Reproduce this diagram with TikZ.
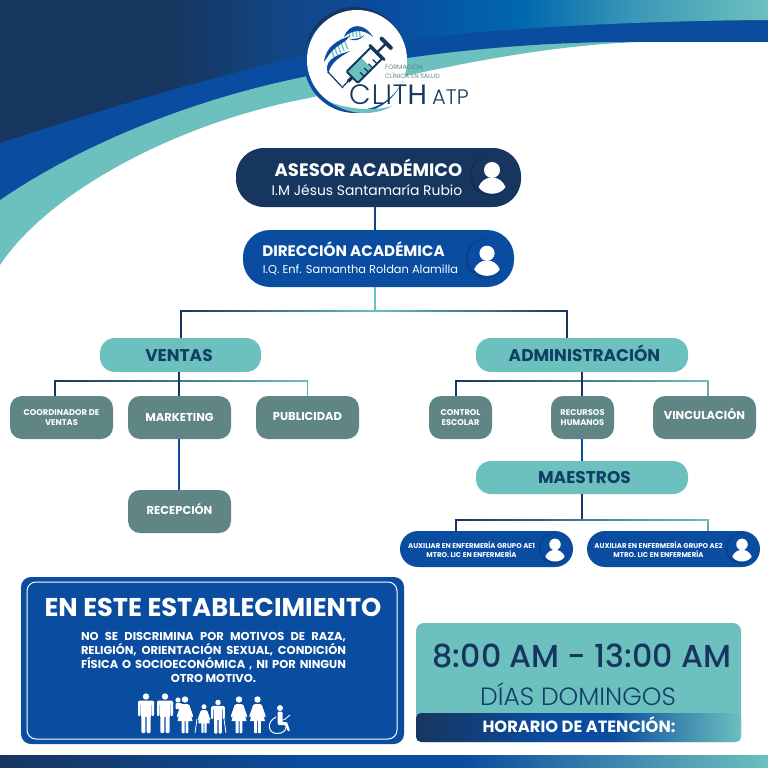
\documentclass[tikz,border=0pt]{standalone}
\usepackage{fontspec}
\setmainfont{Poppins}
\newfontfamily\lightfont{Poppins Light}
\newfontfamily\mediumfont{Poppins Medium}
\usetikzlibrary{calc}
\definecolor{navyDark}{HTML}{17365F}
\definecolor{navyMid}{HTML}{124683}
\definecolor{bandBlue}{HTML}{0A4C9F}
\definecolor{skyBlue}{HTML}{0068AD}
\definecolor{fadeBlue}{HTML}{3F9CB8}
\definecolor{tealSoft}{HTML}{6CC0BD}
\definecolor{greyTeal}{HTML}{608585}
\definecolor{inkBlue}{HTML}{123F66}
\pgfdeclarehorizontalshading{bannerfade}{100bp}{color(0bp)=(navyDark);color(25bp)=(navyDark);
  color(36bp)=(navyDark);color(43bp)=(navyMid);color(50bp)=(bandBlue);color(59bp)=(skyBlue);color(67bp)=(fadeBlue);color(75bp)=(tealSoft);color(100bp)=(tealSoft)}
\pgfdeclarehorizontalshading{stripfade}{100bp}{color(0bp)=(navyDark);color(25bp)=(navyDark);
  color(45bp)=(bandBlue);color(55bp)=(bandBlue);color(75bp)=(tealSoft);color(100bp)=(tealSoft)}
\tikzset{
  tealbox/.style={fill=tealSoft,rounded corners=15pt,text=inkBlue,align=center,inner sep=0pt,text height=12pt,text depth=0pt,font=\fontsize{17}{18}\selectfont\bfseries},
  greybox/.style={fill=greyTeal,rounded corners=12pt,text=white,align=center,inner sep=0pt,font=\fontsize{8.3}{10}\selectfont\bfseries,minimum height=43},
  greyone/.style={greybox,minimum width=103,font=\fontsize{11.5}{13}\selectfont\bfseries,text height=8pt,text depth=#1},
  auxbox/.style={fill=bandBlue,rounded corners=18pt,inner sep=0pt,minimum width=173,minimum height=36},
  auxtext/.style={text=white,align=center,inner sep=0pt,font=\fontsize{7}{9}\selectfont\bfseries},
  boxtitle/.style={text=white,anchor=base,inner sep=0pt},
  linkline/.style={draw=navyDark,line width=1.7pt},
  linkmid/.style={draw=bandBlue,line width=1.7pt},
  linkend/.style={draw=tealSoft!70!greyTeal,line width=1.7pt},
  pics/avatar/.style={code={
    \fill[#1!85!black] (-1.5,.5) circle (21);
    \fill[#1] (0,0) circle (20);
    \fill[white] (0,-5) circle (8);
    \fill[white] (-13.5,12) .. controls (-11,6) and (-6,2.5) .. (0,2.5) .. controls (6,2.5) and (11,6) .. (13.5,12) .. controls (8,21) and (-8,21) .. cycle;
  }},
  pics/man/.style={code={
    \fill (0,-16.5) circle (3.2);
    \fill[rounded corners=1.5] (-8,-12.5) rectangle (8,-8);
    \fill[rounded corners=1] (-8,-12) rectangle (-5.4,3);
    \fill[rounded corners=1] (5.4,-12) rectangle (8,3);
    \fill (-4.6,-12) rectangle (4.6,4);
    \fill[rounded corners=1] (-4.6,3) rectangle (-0.6,20);
    \fill[rounded corners=1] (0.6,3) rectangle (4.6,20);
  }},
  pics/woman/.style={code={
    \fill (0,-14.5) circle (3.2);
    \fill (-3,-10) -- (3,-10) -- (7.5,7) -- (-7.5,7) -- cycle;
    \fill[rounded corners=1] (-4,-10) -- (-8.5,3) -- (-6.7,3.5) -- (-2,-8) -- cycle;
    \fill[rounded corners=1] (4,-10) -- (8.5,3) -- (6.7,3.5) -- (2,-8) -- cycle;
    \fill[rounded corners=.5] (-3.4,6) rectangle (-0.5,19);
    \fill[rounded corners=.5] (0.5,6) rectangle (3.4,19);
  }}
}
\begin{document}
\begin{tikzpicture}[x=1pt,y=-1pt]
    \useasboundingbox (0,0) rectangle (768,768);
    \fill[white] (0,0) rectangle (768,768);

    % banner
    \fill[tealSoft] (0,265) .. controls (50,190) and (180,122) .. (309,98) .. controls (420,72) and (530,46) .. (640,42) -- (768,42) -- (768,0) -- (0,0) -- cycle;
    \fill[bandBlue] (0,200) .. controls (80,145) and (190,100) .. (303,77) .. controls (400,55) and (520,42) .. (625,42) -- (768,42) -- (768,0) -- (0,0) -- cycle;
    \shade[shading=bannerfade] (0,143) .. controls (100,110) and (200,80) .. (300,57) .. controls (400,33) and (600,21) .. (768,20) -- (768,0) -- (0,0) -- cycle;

    % logo
    \fill[navyDark] (355,58) circle (51);
    \fill[bandBlue] (355,62) circle (51);
    \fill[white] (357,60) circle (50);
    \fill[tealSoft] (330,102) .. controls (350,116) and (375,116) .. (392,106) .. controls (375,111) and (350,110) .. (330,102) -- cycle;
    \foreach \k in {0,1,2,3,4}
      \draw[tealSoft,line width=1.3pt] (331+\k*3.4,49-\k*2) -- ++(3,8);
    \foreach \k in {0,1,2,3}
      \draw[tealSoft,line width=1.3pt] (349+\k*3.4,30) -- ++(1,7);
    \fill[bandBlue] (324,62) .. controls (326,46) and (338,40) .. (350,36) .. controls (346,42) and (338,45) .. (333,50) .. controls (329,54) and (327,58) .. (324,62) -- cycle;
    \fill[bandBlue] (328,74) .. controls (324,62) and (332,56) .. (350,51) .. controls (340,57) and (331,62) .. (328,74) -- cycle;
    \fill[bandBlue] (344,37) .. controls (349,23) and (364,22) .. (373,37) .. controls (364,29) and (353,29) .. (344,37) -- cycle;
    \fill[bandBlue] (349,39) .. controls (354,39) and (360,39) .. (364,35) .. controls (360,41) and (354,41) .. (349,39) -- cycle;
    \draw[navyDark,line width=1.2pt] (328,72) -- (343,88);
    \begin{scope}[shift={(365,64.5)},rotate=45]
      \fill[white] (-18,-8) rectangle (16,8);
      \fill[tealSoft] (-18,-8) rectangle (2,8);
      \draw[navyDark,line width=2pt,rounded corners=1pt] (-18,-8) rectangle (16,8);
      \draw[navyDark,line width=2.4pt] (16,0) -- (30,0);
      \draw[navyDark,line width=2.8pt,line cap=round] (17,-10) -- (17,10);
      \draw[navyDark,line width=4pt,line cap=round] (30,-6.5) -- (30,6.5);
      \draw[navyDark,line width=3.4pt] (-18,0) -- (-24,0);
      \draw[navyDark,line width=1.2pt] (-24,0) -- (-31,0);
      \foreach \k in {-9,-3,3,9}
        \draw[navyDark,line width=1.2pt] (\k,8) -- (\k,2);
    \end{scope}
    \node[anchor=west,inner sep=0pt,text=greyTeal,font=\fontsize{6.3}{7}\selectfont] (logoForm) at (385,67) {FORMACIÓN};
    \node[anchor=west,inner sep=0pt,text=greyTeal,font=\fontsize{6.3}{7}\selectfont] (logoClin) at (385,76) {CLÍNICA EN SALUD};
    \node[anchor=base west,inner sep=0pt,text=navyDark,font=\lightfont\fontsize{28}{30}\selectfont] (logoClith) at (349,104) {C\hspace{1pt}L\hspace{2pt}I\hspace{1pt}T{\normalfont H}};
    \node[anchor=base west,inner sep=0pt,text=inkBlue,font=\lightfont\fontsize{21}{21}\selectfont] (logoAtp) at (432,104) {ATP};

    % top of the chart
    \node[fill=navyDark,rounded corners=28pt,minimum width=285,minimum height=59,inner sep=0pt] (asesor) at (378.5,177.5) {};
    \node[boxtitle,font=\fontsize{18}{18}\selectfont\bfseries] (asesorTit) at (368.5,176.5) {ASESOR ACADÉMICO};
    \node[boxtitle,font=\fontsize{13.9}{15}\selectfont] (asesorSub) at (367,195) {I.M Jésus Santamaría Rubio};
    \pic at (492,175) {avatar={navyDark}};

    \node[fill=bandBlue,rounded corners=27pt,minimum width=271,minimum height=57,inner sep=0pt] (direccion) at (378.5,258.5) {};
    \node[boxtitle,font=\fontsize{15.2}{18}\selectfont\bfseries] (direccionTit) at (353.5,256.5) {DIRECCIÓN ACADÉMICA};
    \node[boxtitle,font=\fontsize{11.4}{15}\selectfont] (direccionSub) at (360.5,273) {I.Q. Enf. Samantha Roldan Alamilla};
    \pic[scale=.95] at (487,258) {avatar={bandBlue}};

    % two branches
    \node[tealbox,minimum width=161,minimum height=34] (ventas) at (180.5,355) {\hspace{-3pt}VENTAS};
    \node[tealbox,minimum width=212,minimum height=34] (admin) at (582,355) {\hspace{5pt}ADMINISTRACIÓN};
    \node[greybox,minimum width=103] (coord) at (61.5,417.5) {COORDINADOR DE\\VENTAS};
    \node[greyone=1pt] (marketing) at (179.5,417.5) {MARKETING};
    \node[greyone=3pt] (publicidad) at (307.5,417.5) {PUBLICIDAD};
    \node[greyone=3pt] (recepcion) at (179.5,511.5) {RECEPCIÓN};
    \node[greybox,minimum width=63] (control) at (460.5,417.5) {CONTROL\\ESCOLAR};
    \node[greybox,minimum width=63] (recursos) at (582.5,417.5) {RECURSOS\\HUMANOS};
    \node[greyone=5pt] (vinculacion) at (704.5,417.5) {VINCULACIÓN};
    \node[tealbox,minimum width=212,minimum height=33] (maestros) at (582,477.5) {\hspace{5pt}MAESTROS};
    \node[auxbox] (auxA) at (486.5,549) {};
    \node[auxbox] (auxB) at (673.5,549) {};
    \node[auxtext] (auxATxt) at (471.5,549.5) {AUXILIAR EN ENFERMERÍA GRUPO AE1\\MTRO. LIC EN ENFERMERÍA};
    \node[auxtext] (auxBTxt) at (658.5,549.5) {AUXILIAR EN ENFERMERÍA GRUPO AE2\\MTRO. LIC EN ENFERMERÍA};
    \pic[scale=.72] at (555,548) {avatar={bandBlue}};
    \pic[scale=.72] at (742,548) {avatar={bandBlue}};

    % connectors
    \coordinate (busTop) at (375,311);
    \coordinate (ventasTop) at (181,338);
    \coordinate (adminTop) at (567,338);
    \coordinate (busV) at (179,381);
    \coordinate (busA) at (582,381);
    \coordinate (busM) at (582,520);
    \coordinate (auxATop) at (456,531);
    \coordinate (auxBTop) at (708,531);
    \draw[linkmid,draw=navyMid] (asesor.south -| busTop) -- (direccion.north -| busTop);
    \draw[draw=tealSoft,line width=1.7pt] (direccion.south -| busTop) -- (busTop);
    \draw[linkline] (ventasTop) |- (busTop);
    \draw[linkline] (adminTop) |- (busTop);
    \shade[left color=navyDark,right color=tealSoft] (181,310.15) rectangle (375.8,311.85);
    \shade[left color=tealSoft,right color=navyDark] (374.2,310.15) rectangle (567,311.85);
    \draw[linkline] (coord.north -| 55,0) |- (busV);
    \draw[linkend] (publicidad.north) |- (busV);
    \shade[left color=navyDark,middle color=bandBlue,right color=tealSoft] (54.2,380.15) rectangle (308.2,381.85);
    \draw[linkline] (ventas.south -| busV) -- (marketing.north -| busV);
    \draw[linkmid] (marketing.south -| busV) -- (recepcion.north -| busV);
    \draw[linkline] (control.north -| 456,0) |- (busA);
    \draw[linkend] (vinculacion.north -| 708,0) |- (busA);
    \shade[left color=navyDark,middle color=bandBlue,right color=tealSoft] (455.2,380.15) rectangle (708.8,381.85);
    \draw[linkline] (admin.south -| busA) -- (recursos.north -| busA);
    \draw[linkmid] (recursos.south -| busA) -- (maestros.north -| busA);
    \draw[linkline] (maestros.south -| busM) -- (busM);
    \draw[linkline] (auxATop) |- (busM);
    \draw[linkend] (auxBTop) |- (busM);
    \shade[left color=navyDark,middle color=bandBlue,right color=tealSoft] (455.2,519.15) rectangle (708.8,520.85);

    % sign
    \node[fill=bandBlue,rounded corners=10pt,minimum width=383,minimum height=167,inner sep=0pt] (sign) at (212.5,660.5) {};
    \draw[white,line width=1pt,rounded corners=9pt] (27,582) rectangle (397,739);
    \node[boxtitle,font=\fontsize{25.7}{26}\selectfont\bfseries] (signTit) at (213,616.7) {EN ESTE ESTABLECIMIENTO};
    \node[text=white,font=\fontsize{11.5}{14}\selectfont\bfseries,inner sep=0pt,align=center] (signTxt) at (213.5,657.5) {\makebox[265pt][s]{NO SE DISCRIMINA POR MOTIVOS DE RAZA,}\\\makebox[265pt][s]{RELIGIÓN, ORIENTACIÓN SEXUAL, CONDICIÓN}\\\makebox[265pt][s]{FÍSICA O SOCIOECONÓMICA , NI POR NINGUN}\\OTRO MOTIVO.};
    \begin{scope}[white]
      \pic at (146,713) {man};
      \pic at (165,713) {man};
      \pic at (185,714) {woman};
      \fill (178,700) circle (2.6);
      \fill[rounded corners=1] (175.5,703) rectangle (182,709);
      \pic[scale=.78] at (204,718) {woman};
      \pic[scale=.85] at (218,716.5) {man};
      \draw[line width=.8pt] (197,719) -- (195,733);
      \draw[line width=.8pt] (224,719) -- (226,733);
      \pic at (239,714) {woman};
      \pic at (257.5,714) {woman};
      \fill (280,708) circle (3);
      \fill[rounded corners=1] (277.5,711.5) rectangle (282.5,724);
      \fill[rounded corners=1] (278,722) -- (287,722) -- (290,731) -- (288,731.5) -- (285,725) -- (278,725) -- cycle;
      \draw[line width=1pt] (276,717) .. controls (266,722) and (268,733.5) .. (277,733.5) .. controls (282,733.5) and (286,731) .. (286,727);
      \draw[line width=.9pt] (283,720) .. controls (286,720) and (287,716) .. (290,715);
    \end{scope}

    % hours
    \node[fill=tealSoft,rounded corners=8pt,minimum width=325,minimum height=119,inner sep=0pt] (hours) at (578.5,682.5) {};
    \node[anchor=base,inner sep=0pt,text=navyDark,font=\mediumfont\fontsize{31.7}{34}\selectfont] (hoursTime) at (582,667) {8:00 AM - 13:00 AM};
    \node[anchor=base,inner sep=0pt,text=inkBlue,font=\lightfont\fontsize{25}{25}\selectfont] (hoursDay) at (578,705.5) {DÍAS DOMINGOS};
    \shade[shading=stripfade,rounded corners=5pt] (416,713) rectangle (741,742);
    \node[boxtitle,font=\fontsize{16.3}{16}\selectfont\bfseries] (hoursTag) at (579,732.5) {HORARIO DE ATENCIÓN:};

    % bottom strip
    \shade[shading=stripfade] (0,755) rectangle (768,768);
  \end{tikzpicture}
\end{document}
